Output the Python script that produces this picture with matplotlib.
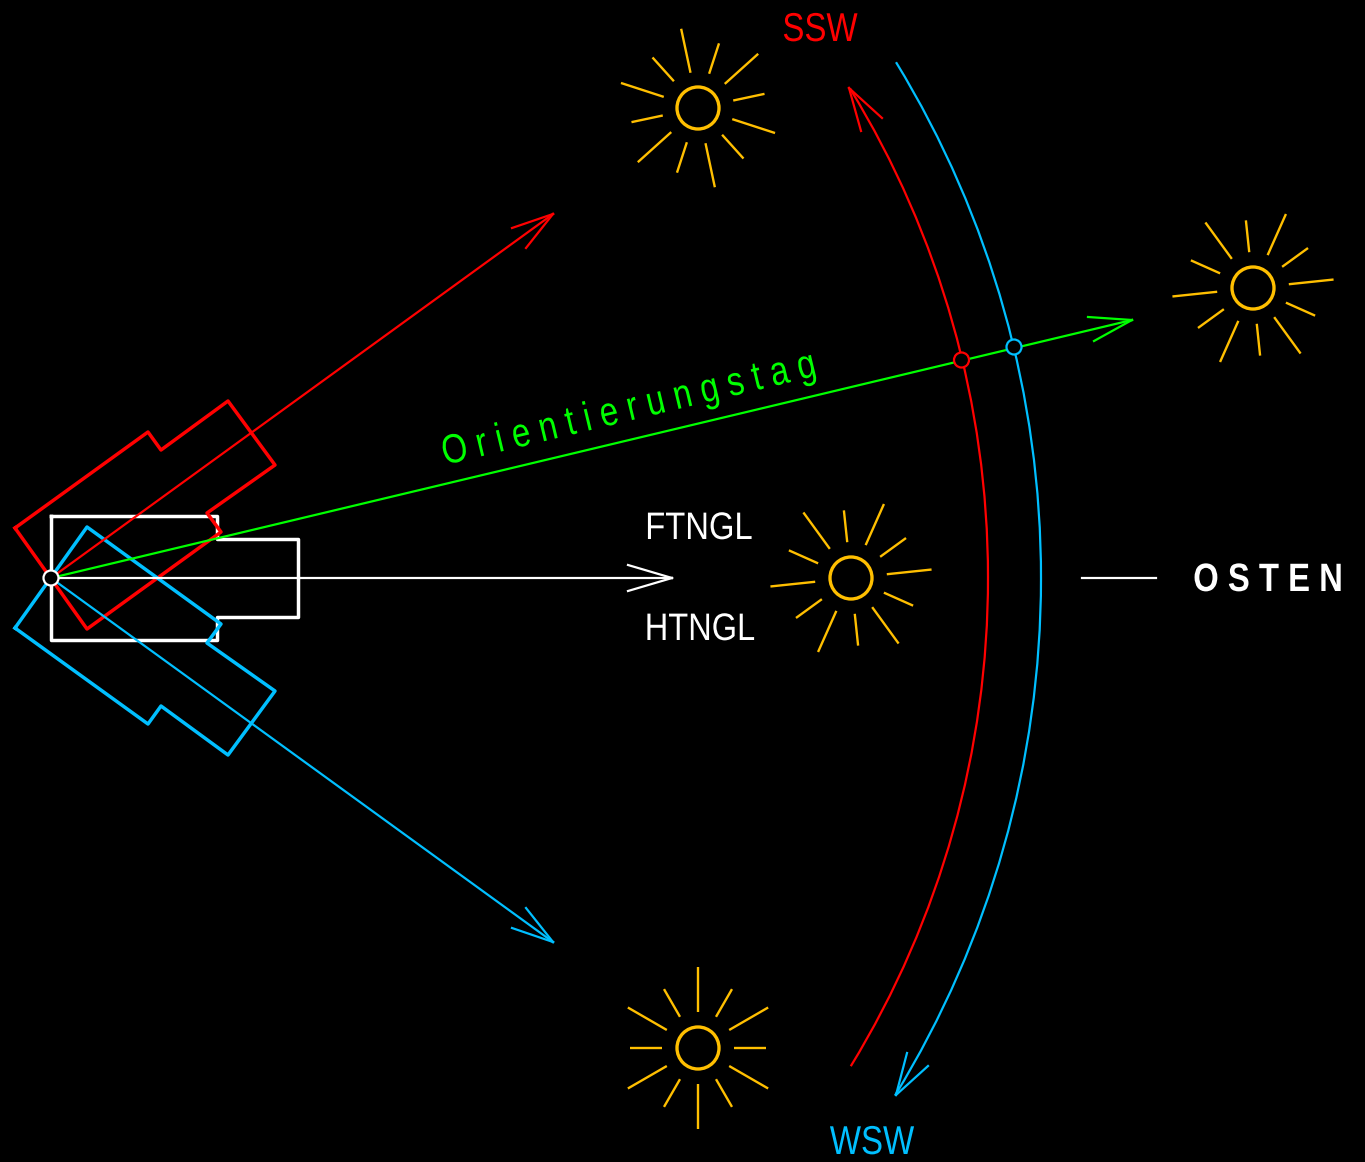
import numpy as np
import matplotlib
matplotlib.use('Agg')
import matplotlib.pyplot as plt
from matplotlib.patches import Arc, Circle
from matplotlib.patheffects import AbstractPathEffect
from matplotlib.transforms import Affine2D

RED = '#ff0000'
GREEN = '#00ff00'
BLUE = '#00bfff'
ORANGE = '#ffbf00'
WHITE = '#ffffff'
FONT = ['Liberation Sans', 'DejaVu Sans']
THIN = 1.6

origin = (51, 578)

house_white_x = [51, 217, 217, 298, 298, 217, 217, 51, 51]
house_white_y = [516, 516, 539, 539, 617, 617, 640, 640, 516]
house_red_x = [15, 148, 161, 228, 275, 207, 221, 87, 15]
house_red_y = [528, 432, 450, 401, 465, 513, 532, 629, 528]
house_blue_x = [15, 148, 161, 228, 275, 207, 221, 87, 15]
house_blue_y = [628, 724, 706, 755, 691, 643, 624, 527, 628]

arrow_red = (553, 214)
arrow_red_barbs = [(512, 228), (526, 248)]
arrow_blue = (553, 942)
arrow_blue_barbs = [(512, 928), (526, 908)]
arrow_white = (672, 578)
arrow_white_barbs = [(628, 565), (628, 591)]
arrow_green = (1132, 320)
arrow_green_barbs = [(1088, 317), (1094, 341)]

arc_red_radius = 937
arc_red_angles = (-31.5, 31.4)
arc_red_barbs = [(861, 131), (882, 118)]
arc_red_tip = (849, 88)
arc_blue_radius = 990
arc_blue_angles = (-31.4, 31.5)
arc_blue_barbs = [(928, 1066), (907, 1053)]
arc_blue_tip = (896, 1095)

dot_red = (961.5, 360)
dot_blue = (1014, 347)

sun_x = [698, 851, 1253, 698]
sun_y = [108, 578, 288, 1048]
sun_turn = [-12, 24, 24, 0]
sun_radius = 21
ray_inner = 36
ray_long = 81
ray_short = 68

fig = plt.figure(figsize=(13.65, 11.62), dpi=100, facecolor='black')
ax = fig.add_axes([0, 0, 1, 1])
ax.set_xlim(0, 1365)
ax.set_ylim(1162, 0)
ax.set_aspect('equal')
ax.axis('off')


class Squeeze(AbstractPathEffect):
    # narrows the glyphs along the text direction, no narrow font is installed
    def __init__(self, x, y, scale, angle=0):
        super().__init__()
        px, py = ax.transData.transform((x, y))
        self.extra = (Affine2D().translate(-px, -py).rotate_deg(-angle)
                      .scale(scale, 1).rotate_deg(angle).translate(px, py))

    def draw_path(self, renderer, gc, tpath, affine, rgbFace=None):
        renderer.draw_path(gc, tpath, affine + self.extra, rgbFace)


def label(x, y, s, color, size, scale, angle=0, ha='center', weight='normal'):
    t = ax.text(x, y, s, color=color, fontsize=size, family=FONT, fontweight=weight,
                rotation=angle, rotation_mode='anchor', va='baseline', ha=ha)
    t.set_path_effects([Squeeze(x, y, scale, angle)])


def arrow(start, tip, barbs, color):
    ax.plot([start[0], tip[0]], [start[1], tip[1]], color=color, lw=THIN, zorder=3)
    for b in barbs:
        ax.plot([b[0], tip[0]], [b[1], tip[1]], color=color, lw=THIN, zorder=3)


def sun(x, y, turn):
    ax.add_patch(Circle((x, y), sun_radius, fill=False, ec=ORANGE, lw=2.4))
    for k in range(12):
        a = np.radians(turn + 30 * k)
        outer = ray_long if k % 2 == 0 else ray_short
        ax.plot([x + ray_inner * np.sin(a), x + outer * np.sin(a)],
                [y - ray_inner * np.cos(a), y - outer * np.cos(a)],
                color=ORANGE, lw=1.7, solid_capstyle='butt')


def dot(pos, color, r=7.5):
    ax.add_patch(Circle(pos, r, fc='black', ec=color, lw=1.6, zorder=6))


ax.plot(house_white_x, house_white_y, color=WHITE, lw=2.5, zorder=2)
ax.plot(house_red_x, house_red_y, color=RED, lw=2.5, zorder=2)
ax.plot(house_blue_x, house_blue_y, color=BLUE, lw=2.5, zorder=2)

arrow(origin, arrow_white, arrow_white_barbs, WHITE)
arrow(origin, arrow_red, arrow_red_barbs, RED)
arrow(origin, arrow_blue, arrow_blue_barbs, BLUE)
arrow(origin, arrow_green, arrow_green_barbs, GREEN)

ax.add_patch(Arc(origin, 2 * arc_red_radius, 2 * arc_red_radius,
                 theta1=arc_red_angles[0], theta2=arc_red_angles[1],
                 color=RED, lw=THIN, zorder=3))
ax.add_patch(Arc(origin, 2 * arc_blue_radius, 2 * arc_blue_radius,
                 theta1=arc_blue_angles[0], theta2=arc_blue_angles[1],
                 color=BLUE, lw=THIN, zorder=3))
for b in arc_red_barbs:
    ax.plot([b[0], arc_red_tip[0]], [b[1], arc_red_tip[1]], color=RED, lw=THIN)
for b in arc_blue_barbs:
    ax.plot([b[0], arc_blue_tip[0]], [b[1], arc_blue_tip[1]], color=BLUE, lw=THIN)

ax.plot([1082, 1156], [578, 578], color=WHITE, lw=THIN)

for i in range(len(sun_x)):
    sun(sun_x[i], sun_y[i], sun_turn[i])

dot(origin, WHITE)
dot(dot_red, RED)
dot(dot_blue, BLUE)

label(699, 539, 'FTNGL', WHITE, 27.6, 0.855)
label(700, 640, 'HTNGL', WHITE, 27.6, 0.85)
label(820, 41, 'SSW', RED, 29, 0.82)
label(872, 1154, 'WSW', BLUE, 29, 0.82)
label(1268, 591, 'O S T E N', WHITE, 28.5, 0.83, weight='bold')
label(445, 465, 'O r i e n t i e r u n g s t a g', GREEN, 29.5, 0.81, angle=13.5, ha='left')

fig.savefig('out.png', dpi=100, facecolor='black')
